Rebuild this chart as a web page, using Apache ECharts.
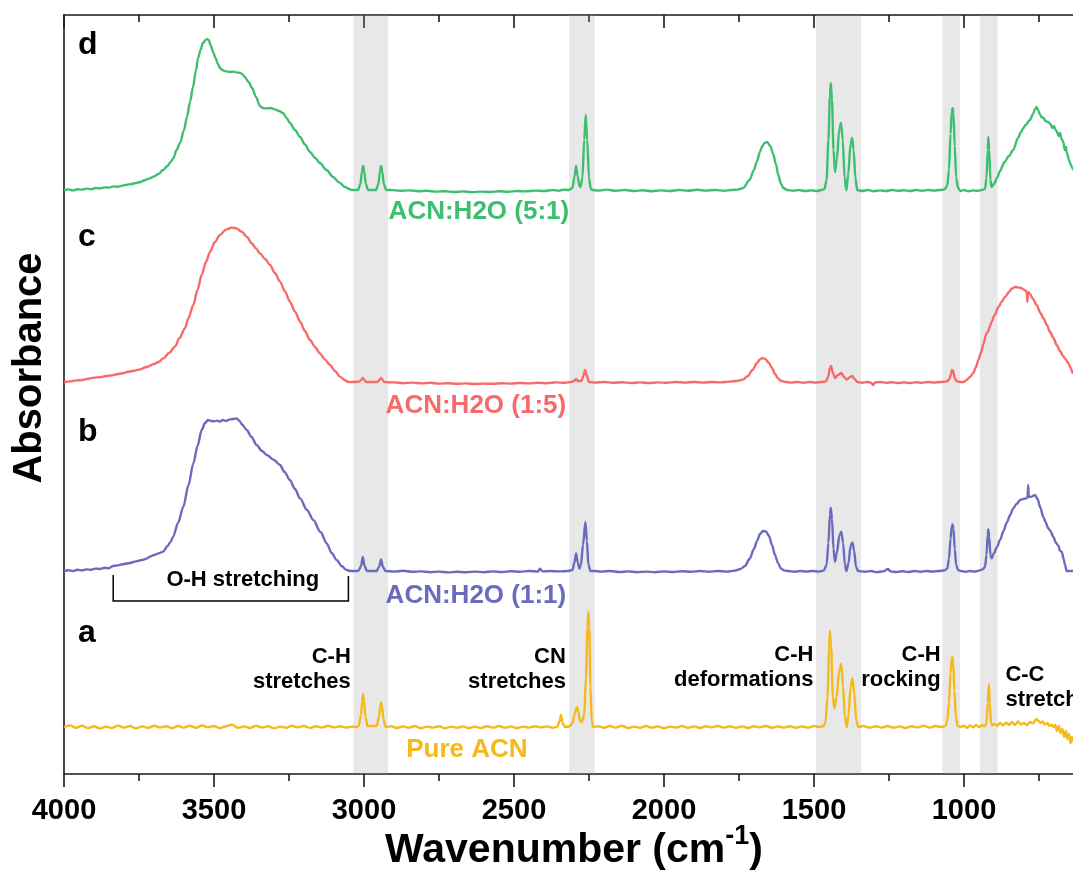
<!DOCTYPE html>
<html>
<head>
<meta charset="utf-8">
<title>FTIR spectra of acetonitrile / water mixtures</title>
<script src="https://cdn.jsdelivr.net/npm/echarts@6/dist/echarts.min.js"></script>
<style>
  html, body { margin: 0; padding: 0; background: #fff; overflow: hidden; }
  #frame { width: 1073px; height: 871px; overflow: hidden; position: relative; }
  #chart { width: 1200px; height: 871px; position: absolute; left: 0; top: 0; }
</style>
</head>
<body>
<div id="frame"><div id="chart"></div></div>
<script>
// ---- data: [wavenumber (cm-1), absorbance above the trace's own baseline] ----

const tickLabels = ['4000', '3500', '3000', '2500', '2000', '1500', '1000'];

// vertical stacking offsets of the four traces (a, b, c, d)
const traceOffsets = [0.235, 1.015, 1.96, 2.92];

const seriesNames = ['Pure ACN', 'ACN:H2O (1:1)', 'ACN:H2O (1:5)', 'ACN:H2O (5:1)'];
const panelLetters = ['a', 'b', 'c', 'd'];
const seriesColors = ['#f5b91c', '#6a6abe', '#f86a6a', '#3ebf70'];

// assignment bands (cm-1)
const bandRanges = [[3035, 2920], [2316, 2231], [1493, 1343], [1072, 1013], [947, 888]];
const bandLabels = ['C-H\nstretches', 'CN\nstretches', 'C-H\ndeformations', 'C-H\nrocking', 'C-C\nstretches'];

const pureACN = [
  [4000,0.0],[3980,0.008],[3960,-0.004],[3940,0.006],[3920,-0.006],[3900,0.004],[3880,-0.008],[3860,0.002],
  [3840,-0.005],[3820,0.007],[3800,-0.003],[3780,0.005],[3760,-0.007],[3740,0.003],[3720,-0.004],[3700,0.006],
  [3680,-0.002],[3660,0.004],[3640,-0.006],[3620,0.005],[3600,-0.003],[3580,0.006],[3560,-0.004],[3540,0.008],
  [3520,-0.002],[3500,0.005],[3480,-0.006],[3460,0.004],[3440,0.012],[3420,-0.004],[3400,0.003],[3380,-0.005],
  [3360,0.006],[3340,-0.003],[3320,0.004],[3300,-0.007],[3280,0.002],[3260,-0.004],[3240,0.006],[3220,-0.002],
  [3200,0.005],[3180,-0.005],[3160,0.004],[3140,-0.003],[3120,0.006],[3100,-0.002],[3080,0.004],[3060,-0.003],
  [3040,0.002],[3025,0.0],
  [3018,0.005],[3010,0.06],[3006,0.13],[3003,0.165],[3000,0.13],[2995,0.05],[2988,0.005],
  [2958,0.005],[2950,0.05],[2946,0.1],[2943,0.123],[2940,0.1],[2935,0.04],[2928,0.0],
  [2910,0.004],[2890,-0.005],[2870,0.003],[2850,-0.004],[2830,0.005],[2810,-0.006],[2790,0.002],[2770,-0.003],
  [2750,0.004],[2730,-0.007],[2710,0.002],[2690,-0.004],[2670,0.003],[2650,-0.006],[2630,0.002],[2610,-0.005],
  [2590,0.004],[2570,-0.003],[2550,0.005],[2530,-0.004],[2510,0.003],[2490,-0.006],[2470,0.002],[2450,-0.003],
  [2430,0.004],[2410,-0.002],[2390,0.003],[2370,-0.004],[2355,0.002],[2348,0.03],[2343,0.06],[2338,0.02],
  [2330,0.0],[2315,0.003],
  [2305,0.02],[2297,0.07],[2290,0.1],[2285,0.07],[2280,0.03],[2274,0.025],[2266,0.06],[2260,0.25],
  [2255,0.5],[2252,0.575],[2249,0.5],[2245,0.2],[2241,0.03],[2236,0.0],
  [2220,0.004],[2200,-0.004],[2180,0.005],[2160,-0.003],[2140,0.006],[2120,-0.005],[2100,0.002],[2080,-0.004],
  [2060,0.005],[2040,-0.003],[2020,0.003],[2000,-0.006],[1980,0.002],[1960,-0.003],[1940,0.005],[1920,-0.004],
  [1900,0.003],[1880,-0.005],[1860,0.004],[1840,-0.002],[1820,0.005],[1800,-0.003],[1780,0.004],[1760,-0.004],
  [1740,0.003],[1720,-0.005],[1700,0.004],[1680,-0.002],[1660,0.005],[1640,-0.004],[1620,0.003],[1600,-0.003],
  [1580,0.004],[1560,-0.004],[1540,0.003],[1520,-0.003],[1500,0.005],[1485,0.0],[1470,0.004],
  [1462,0.02],[1455,0.15],[1450,0.38],[1447,0.48],[1443,0.4],[1437,0.15],[1432,0.093],[1425,0.15],
  [1416,0.28],[1409,0.315],[1403,0.2],[1397,0.05],[1391,0.0],[1385,0.06],[1378,0.2],[1372,0.243],
  [1366,0.17],[1359,0.03],[1352,0.0],
  [1335,0.005],[1315,-0.004],[1295,0.004],[1275,-0.003],[1255,0.005],[1235,-0.004],[1215,0.003],[1195,-0.005],
  [1175,0.004],[1155,-0.002],[1135,0.006],[1115,-0.003],[1095,0.005],[1075,0.0],[1062,0.005],
  [1056,0.03],[1050,0.12],[1045,0.27],[1041,0.34],[1039,0.35],[1036,0.32],[1032,0.18],[1027,0.05],
  [1021,0.005],[1012,0.0],
  [1000,0.006],[990,-0.004],[980,0.008],[970,-0.002],[960,0.01],[950,0.0],[940,0.009],[930,0.004],
  [925,0.02],[921,0.12],[917,0.215],[914,0.12],[910,0.02],[905,0.008],
  [898,0.015],[890,0.005],[880,0.02],[870,0.008],[860,0.022],[850,0.01],[840,0.025],[830,0.01],
  [820,0.028],[810,0.012],[800,0.02],[790,0.01],[780,0.025],[770,0.018],[762,0.035],[758,0.04],
  [752,0.03],[745,0.02],[738,0.028],[730,0.012],[722,0.02],[715,0.005],[708,0.012],[702,0.0],
  [696,0.01],[690,-0.02],[684,0.005],[678,-0.03],[672,-0.01],[666,-0.05],[660,-0.02],[655,-0.06],
  [650,-0.035],[645,-0.08],[640,-0.05],[635,-0.075]
];

const acnWater11 = [
  [4000,0.0],[3985,0.004],[3970,0.0],[3955,0.006],[3940,0.003],[3925,0.008],[3910,0.006],[3895,0.012],
  [3880,0.01],[3865,0.016],[3850,0.014],[3837,0.025],[3820,0.028],[3800,0.035],[3780,0.04],[3760,0.048],
  [3740,0.055],[3725,0.062],[3713,0.072],[3700,0.08],[3685,0.088],[3669,0.097],[3655,0.125],[3645,0.145],
  [3636,0.172],[3620,0.24],[3602,0.322],[3585,0.43],[3569,0.538],[3555,0.625],[3541,0.705],[3530,0.74],
  [3520,0.755],[3513,0.752],[3500,0.748],[3490,0.752],[3480,0.747],[3470,0.755],[3460,0.75],[3447,0.758],
  [3435,0.76],[3424,0.763],[3415,0.75],[3405,0.73],[3391,0.705],[3375,0.67],[3358,0.63],[3340,0.6],
  [3324,0.58],[3300,0.555],[3280,0.53],[3265,0.495],[3247,0.455],[3230,0.41],[3213,0.363],[3190,0.305],
  [3169,0.255],[3145,0.195],[3124,0.138],[3108,0.09],[3091,0.055],[3075,0.025],[3058,0.005],[3045,0.0],
  [3025,0.0],
  [3018,0.002],[3010,0.025],[3004,0.07],[2998,0.025],[2990,0.0],[2958,0.0],[2950,0.02],[2943,0.058],
  [2937,0.02],[2928,0.0],
  [2900,-0.003],[2870,0.001],[2840,-0.004],[2810,-0.002],[2780,-0.006],[2750,-0.003],[2720,-0.007],[2690,-0.004],
  [2660,-0.006],[2630,-0.003],[2600,-0.006],[2570,-0.002],[2540,-0.005],[2510,-0.001],[2480,-0.004],[2450,0.0],
  [2420,-0.003],[2413,0.012],[2405,-0.002],[2380,0.0],[2350,-0.002],[2320,0.0],
  [2305,0.005],[2299,0.04],[2293,0.088],[2288,0.045],[2282,0.012],[2277,0.03],[2270,0.13],[2262,0.245],
  [2257,0.15],[2252,0.03],[2245,0.0],[2235,0.0],
  [2210,-0.003],[2180,0.0],[2150,-0.005],[2120,-0.002],[2090,-0.006],[2060,-0.003],[2030,-0.006],[2000,-0.002],
  [1970,-0.005],[1940,-0.001],[1910,-0.004],[1880,0.0],[1850,-0.004],[1820,0.0],[1790,-0.003],[1765,0.002],
  [1745,0.01],[1730,0.025],[1715,0.06],[1700,0.11],[1690,0.15],[1680,0.185],[1670,0.2],[1660,0.198],
  [1650,0.175],[1640,0.13],[1630,0.08],[1620,0.04],[1610,0.012],[1598,0.002],[1585,0.0],
  [1565,-0.004],[1545,0.0],[1525,-0.003],[1505,0.0],[1485,-0.003],[1468,0.002],
  [1458,0.03],[1452,0.14],[1447,0.28],[1444,0.317],[1440,0.26],[1435,0.11],[1430,0.047],[1424,0.09],
  [1415,0.18],[1409,0.197],[1403,0.14],[1397,0.03],[1392,0.0],[1385,0.04],[1378,0.125],[1372,0.143],
  [1366,0.1],[1360,0.02],[1353,0.0],
  [1330,-0.004],[1310,0.0],[1290,-0.006],[1270,-0.002],[1253,0.01],[1245,-0.002],[1225,-0.005],[1205,-0.001],
  [1185,-0.005],[1165,0.0],[1145,-0.004],[1125,0.0],[1105,-0.003],[1085,0.0],[1065,0.003],
  [1056,0.012],[1050,0.06],[1045,0.16],[1041,0.22],[1038,0.233],[1035,0.21],[1031,0.11],[1026,0.03],
  [1020,0.005],[1010,0.0],
  [995,-0.004],[980,0.0],[965,-0.003],[950,0.002],[938,0.008],[930,0.02],
  [925,0.08],[921,0.18],[919,0.208],[916,0.17],[912,0.08],[908,0.063],
  [900,0.09],[890,0.12],[880,0.155],[868,0.2],[858,0.24],[846,0.28],[836,0.313],[825,0.335],
  [813,0.355],[802,0.36],[791,0.363],[788,0.375],[786,0.43],[784,0.37],[775,0.372],[763,0.38],
  [755,0.36],[745,0.315],[736,0.27],[728,0.245],[720,0.215],[712,0.2],[702,0.17],[693,0.14],
  [685,0.125],[680,0.1],[674,0.097],[668,0.06],[663,0.03],[658,0.0],[645,0.0],[630,0.0]
];

const acnWater15 = [
  [4000,0.0],[3980,0.003],[3960,0.008],[3940,0.01],[3920,0.016],[3900,0.022],[3880,0.024],[3860,0.03],
  [3840,0.033],[3820,0.04],[3800,0.045],[3791,0.05],[3770,0.055],[3750,0.062],[3724,0.075],[3700,0.09],
  [3685,0.1],[3669,0.118],[3650,0.145],[3630,0.177],[3615,0.22],[3597,0.268],[3585,0.32],[3569,0.385],
  [3555,0.46],[3541,0.535],[3527,0.6],[3513,0.652],[3497,0.7],[3480,0.735],[3460,0.762],[3441,0.772],
  [3425,0.768],[3408,0.752],[3390,0.725],[3374,0.693],[3360,0.668],[3347,0.643],[3330,0.615],[3313,0.585],
  [3297,0.545],[3280,0.502],[3263,0.452],[3247,0.402],[3230,0.352],[3213,0.302],[3197,0.255],[3180,0.21],
  [3163,0.175],[3147,0.143],[3130,0.112],[3113,0.085],[3097,0.055],[3080,0.027],[3065,0.01],[3052,0.0],
  [3030,0.0],
  [3015,0.002],[3008,0.012],[3004,0.02],[3000,0.012],[2993,0.0],[2955,0.0],[2948,0.012],[2943,0.02],
  [2939,0.012],[2932,0.0],
  [2900,-0.002],[2870,-0.006],[2840,-0.003],[2810,-0.007],[2780,-0.004],[2750,-0.008],[2720,-0.006],[2690,-0.009],
  [2660,-0.007],[2630,-0.01],[2600,-0.008],[2570,-0.009],[2540,-0.006],[2510,-0.008],[2480,-0.005],[2450,-0.007],
  [2420,-0.004],[2390,-0.006],[2360,-0.002],[2330,-0.004],[2310,0.0],
  [2300,0.005],[2293,0.015],[2287,0.005],[2275,0.005],[2269,0.03],[2263,0.06],[2257,0.03],[2250,0.0],
  [2230,-0.003],[2200,0.0],[2170,-0.004],[2140,-0.001],[2110,-0.005],[2080,-0.002],[2050,-0.005],[2020,-0.002],
  [1990,-0.004],[1960,0.0],[1930,-0.003],[1900,0.0],[1870,-0.003],[1840,0.0],[1810,-0.002],[1780,0.002],
  [1760,0.005],
  [1737,0.012],[1720,0.03],[1705,0.06],[1690,0.095],[1680,0.113],[1672,0.12],[1662,0.115],[1650,0.095],
  [1640,0.07],[1630,0.04],[1620,0.018],[1610,0.006],[1595,0.0],
  [1575,-0.003],[1555,0.0],[1535,-0.004],[1515,0.0],[1495,-0.003],[1475,0.0],[1460,0.003],
  [1452,0.03],[1447,0.07],[1443,0.08],[1438,0.05],[1430,0.02],[1420,0.035],[1409,0.045],[1400,0.025],
  [1390,0.012],[1380,0.025],[1372,0.03],[1365,0.015],[1355,0.0],
  [1340,-0.004],[1325,0.0],[1310,-0.003],[1303,-0.015],[1298,-0.003],[1280,0.0],[1260,-0.004],[1240,-0.001],
  [1220,-0.005],[1200,-0.002],[1180,-0.005],[1160,-0.001],[1140,-0.004],[1120,0.0],[1100,-0.003],[1080,0.0],
  [1060,0.002],
  [1050,0.01],[1044,0.035],[1040,0.06],[1036,0.055],[1031,0.02],[1025,0.005],[1015,0.0],[1002,0.0],
  [990,0.012],[980,0.025],[969,0.045],[960,0.075],[952,0.11],[944,0.145],[935,0.19],[927,0.235],
  [924,0.245],[920,0.25],[916,0.27],[908,0.3],[898,0.335],[885,0.375],[875,0.4],[863,0.425],
  [850,0.45],[840,0.468],[830,0.475],[820,0.473],[810,0.47],[802,0.463],[795,0.458],[791,0.45],
  [789,0.4],[787,0.45],[780,0.44],[770,0.415],[758,0.385],[745,0.345],[735,0.318],[724,0.285],
  [713,0.25],[702,0.22],[691,0.185],[680,0.155],[670,0.13],[662,0.115],[655,0.1],[652,0.093],
  [645,0.07],[637,0.045],[630,0.035]
];

const acnWater51 = [
  [4000,0.0],[3985,0.003],[3970,-0.002],[3955,0.004],[3940,0.002],[3925,0.007],[3910,0.004],[3895,0.01],
  [3880,0.008],[3865,0.013],[3850,0.012],[3835,0.018],[3820,0.016],[3805,0.022],[3790,0.026],[3775,0.03],
  [3760,0.035],[3745,0.04],[3730,0.05],[3715,0.058],[3700,0.068],[3685,0.08],[3670,0.1],[3655,0.12],
  [3645,0.14],[3635,0.16],[3625,0.2],[3613,0.235],[3600,0.3],[3590,0.365],[3580,0.44],[3570,0.515],
  [3560,0.6],[3553,0.66],[3545,0.7],[3537,0.735],[3528,0.75],[3523,0.755],[3518,0.75],[3510,0.72],
  [3503,0.69],[3495,0.66],[3487,0.63],[3480,0.61],[3473,0.6],[3460,0.593],[3447,0.59],[3435,0.592],
  [3425,0.588],[3413,0.585],[3405,0.578],[3397,0.565],[3385,0.54],[3373,0.51],[3360,0.465],[3347,0.42],
  [3338,0.41],[3325,0.408],[3310,0.41],[3297,0.403],[3283,0.395],[3270,0.385],[3258,0.36],[3247,0.335],
  [3230,0.3],[3213,0.265],[3197,0.228],[3180,0.19],[3163,0.16],[3147,0.135],[3125,0.1],[3103,0.065],
  [3083,0.038],[3063,0.015],[3050,0.005],[3040,0.0],[3025,0.0],
  [3020,0.0],[3012,0.03],[3007,0.09],[3003,0.12],[2999,0.09],[2994,0.03],[2986,0.0],
  [2960,0.0],[2952,0.03],[2947,0.09],[2943,0.12],[2939,0.09],[2934,0.03],[2926,0.0],
  [2910,0.0],[2880,-0.004],[2850,-0.002],[2820,-0.006],[2790,-0.004],[2760,-0.008],[2730,-0.006],[2700,-0.01],
  [2670,-0.007],[2640,-0.011],[2610,-0.008],[2580,-0.01],[2550,-0.006],[2520,-0.009],[2490,-0.005],[2460,-0.007],
  [2430,-0.003],[2400,-0.005],[2370,0.0],[2350,-0.004],[2335,0.002],[2318,0.0],
  [2305,0.01],[2298,0.07],[2293,0.12],[2288,0.07],[2282,0.02],[2278,0.015],[2272,0.06],[2266,0.25],
  [2261,0.375],[2256,0.25],[2250,0.06],[2244,0.005],[2238,0.0],
  [2220,-0.003],[2190,0.002],[2160,-0.004],[2130,0.0],[2100,-0.005],[2070,-0.001],[2040,-0.006],[2010,-0.002],
  [1980,-0.005],[1950,0.0],[1920,-0.004],[1890,0.001],[1860,-0.003],[1830,0.0],[1800,-0.004],[1775,0.0],
  [1755,0.002],
  [1736,0.01],[1715,0.05],[1700,0.1],[1691,0.14],[1680,0.19],[1674,0.215],[1665,0.235],[1656,0.24],
  [1646,0.22],[1636,0.18],[1627,0.13],[1619,0.075],[1610,0.03],[1602,0.01],[1590,0.0],
  [1570,-0.004],[1550,0.0],[1530,-0.005],[1510,-0.002],[1490,-0.005],[1475,0.0],[1465,0.005],
  [1458,0.05],[1452,0.25],[1447,0.47],[1444,0.535],[1440,0.45],[1435,0.2],[1430,0.09],[1424,0.15],
  [1416,0.3],[1410,0.335],[1404,0.25],[1398,0.06],[1392,-0.002],[1386,0.08],[1378,0.23],[1373,0.26],
  [1368,0.2],[1362,0.06],[1356,0.0],
  [1340,-0.005],[1320,0.0],[1300,-0.006],[1280,-0.002],[1260,-0.005],[1240,0.0],[1220,-0.004],[1200,-0.001],
  [1180,-0.005],[1160,0.0],[1140,-0.004],[1120,0.0],[1100,-0.003],[1080,0.0],[1065,0.003],
  [1056,0.02],[1050,0.1],[1045,0.28],[1041,0.39],[1038,0.41],[1035,0.38],[1031,0.22],[1026,0.06],
  [1020,0.01],[1012,-0.005],
  [1000,0.0],[985,-0.006],[970,-0.002],[955,-0.004],[940,0.0],[930,0.005],
  [925,0.06],[921,0.2],[919,0.265],[916,0.2],[912,0.05],[908,0.015],
  [900,0.03],[890,0.06],[880,0.095],[865,0.14],[850,0.17],[836,0.2],[820,0.26],[810,0.29],
  [802,0.31],[795,0.325],[780,0.35],[770,0.38],[763,0.405],[758,0.415],[752,0.395],[746,0.375],
  [742,0.365],[735,0.36],[728,0.345],[720,0.34],[712,0.33],[705,0.31],[700,0.32],[695,0.3],
  [691,0.295],[685,0.27],[680,0.285],[675,0.255],[669,0.24],[664,0.2],[660,0.215],[658,0.19],
  [650,0.15],[645,0.13],[641,0.115],[635,0.1]
];

const traces = [pureACN, acnWater11, acnWater15, acnWater51];

// ---- chart ----
// The plot area runs on past the right edge of the visible frame (down to 500 cm-1).
const FONT = '"Liberation Sans", Arial, Helvetica, sans-serif';
const chart = echarts.init(document.getElementById('chart'), null, { renderer: 'canvas' });

const axisLine = { show: true, onZero: false, lineStyle: { color: '#1a1a1a', width: 1.6 } };

const lineSeries = traces.map((trace, i) => ({
  name: seriesNames[i],
  type: 'line',
  xAxisIndex: 0,
  yAxisIndex: 0,
  showSymbol: false,
  symbol: 'none',
  smooth: 0.3,
  smoothMonotone: 'x',
  z: 2,
  lineStyle: { color: seriesColors[i], width: 2.4 },
  data: trace.map(([w, v]) => [w, +(v + traceOffsets[i]).toFixed(4)])
}));

// translucent grey bands drawn over the traces
const bandSeries = {
  name: 'bands',
  type: 'line',
  data: [],
  z: 5,
  markArea: {
    silent: true,
    itemStyle: { color: 'rgba(150,150,150,0.22)' },
    data: bandRanges.map(([a, b]) => [{ xAxis: a }, { xAxis: b }])
  }
};

const xCommon = {
  type: 'value',
  min: 500,
  max: 4000,
  inverse: true,
  interval: 500,
  splitLine: { show: false },
  axisLine: axisLine,
  minorTick: { show: true, splitNumber: 2, length: 7, lineStyle: { color: '#1a1a1a', width: 1.6 } }
};

chart.setOption({
  animation: false,
  backgroundColor: '#fff',
  grid: { left: 64, top: 15, right: 86, bottom: 97, containLabel: false },
  xAxis: [
    Object.assign({}, xCommon, {
      position: 'bottom',
      axisTick: { show: true, inside: false, length: 13, lineStyle: { color: '#1a1a1a', width: 1.6 } },
      axisLabel: {
        show: true, margin: 22, color: '#000', fontFamily: FONT, fontWeight: 'bold', fontSize: 29,
        formatter: (v) => tickLabels.includes(String(v)) ? String(v) : ''
      }
    }),
    Object.assign({}, xCommon, {
      position: 'top',
      axisTick: { show: true, inside: true, length: 13, lineStyle: { color: '#1a1a1a', width: 1.6 } },
      axisLabel: { show: false }
    })
  ],
  yAxis: {
    type: 'value',
    min: 0,
    max: 3.795,
    axisLine: axisLine,
    axisTick: { show: false },
    axisLabel: { show: false },
    splitLine: { show: false }
  },
  series: lineSeries.concat([bandSeries])
});

// ---- text and bracket, anchored in data coordinates ----
const P = (w, v) => chart.convertToPixel({ seriesIndex: 0 }, [w, v]);

function label(text, w, v, opts) {
  const [x, y] = P(w, v);
  return {
    type: 'text', x, y, z: 100, silent: true,
    style: Object.assign({
      text, fill: '#000', fontFamily: FONT, fontWeight: 'bold', fontSize: 22,
      align: 'center', verticalAlign: 'middle', lineHeight: 25
    }, opts || {})
  };
}

const graphics = [];

// panel letters
const letterY = [0.7025, 1.711, 2.686, 3.645];
panelLetters.forEach((t, i) => graphics.push(label(t, 3953, letterY[i], { fontSize: 32, align: 'left' })));

// series names under each trace
const nameAnchors = [[2657, 0.122], [2627, 0.892], [2627, 1.842], [2617, 2.8085]];
seriesNames.forEach((t, i) => graphics.push(label(t, nameAnchors[i][0], nameAnchors[i][1],
  { fontSize: 26, fill: seriesColors[i], lineHeight: 30 })));

// band assignments
const bandTextAnchors = [[3044, 0.525, 'right'], [2327, 0.525, 'right'], [1502, 0.535, 'right'],
  [1078, 0.535, 'right'], [862, 0.4325, 'left']];
bandLabels.forEach((t, i) => graphics.push(label(t, bandTextAnchors[i][0], bandTextAnchors[i][1],
  { align: bandTextAnchors[i][2] })));

// O-H stretching bracket
graphics.push(label('O-H stretching', 3404, 0.97));
graphics.push({
  type: 'polyline', z: 100, silent: true,
  shape: { points: [P(3836, 0.995), P(3836, 0.865), P(3052, 0.865), P(3052, 0.99)] },
  style: { stroke: '#000', lineWidth: 1.5, fill: null }
});

// axis titles
graphics.push({
  type: 'text', x: 30, y: 368, rotation: Math.PI / 2, z: 100, silent: true,
  style: { text: 'Absorbance', fill: '#000', fontFamily: FONT, fontWeight: 'bold', fontSize: 40,
    align: 'center', verticalAlign: 'middle' }
});
graphics.push({
  type: 'text', x: 574, y: 851, z: 100, silent: true,
  style: {
    text: '{m|Wavenumber (cm}{s|-1}{m|)}',
    align: 'center', verticalAlign: 'middle',
    rich: {
      m: { fill: '#000', fontFamily: FONT, fontWeight: 'bold', fontSize: 41, lineHeight: 55, verticalAlign: 'middle' },
      s: { fill: '#000', fontFamily: FONT, fontWeight: 'bold', fontSize: 27, lineHeight: 28, verticalAlign: 'top' }
    }
  }
});

chart.setOption({ graphic: graphics });
</script>
</body>
</html>
